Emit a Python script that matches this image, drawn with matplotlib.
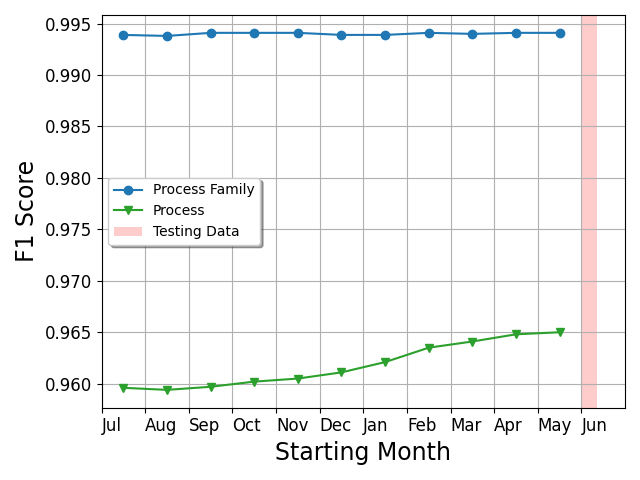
import matplotlib
matplotlib.use("Agg")
import matplotlib.pyplot as plt
import numpy as np

months = ["Jul", "Aug", "Sep", "Oct", "Nov", "Dec", "Jan", "Feb", "Mar", "Apr", "May", "Jun"]
process_family = [0.9939, 0.9938, 0.9941, 0.9941, 0.9941, 0.9939, 0.9939, 0.9941, 0.9940, 0.9941, 0.9941]
process = [0.9596, 0.9594, 0.9597, 0.9602, 0.9605, 0.9611, 0.9621, 0.9635, 0.9641, 0.9648, 0.9650]
testing_start, testing_end = 11, 11.35

fig, ax = plt.subplots(figsize=(6.4, 4.8), dpi=100)
x = np.arange(len(process_family)) + 0.5
ax.plot(x, process_family, marker="o", color="#1f77b4", label="Process Family")
ax.plot(x, process, marker="v", color="#2ca02c", label="Process")
ax.axvspan(testing_start, testing_end, color="red", alpha=0.2, lw=0, label="Testing Data")
ax.set_xlim(0, 12)
ax.set_xticks(np.arange(len(months)))
ax.set_xticklabels(months, ha="left")
ax.tick_params(labelsize=12)
ax.grid(True, color="#b0b0b0")
ax.set_xlabel("Starting Month", fontsize=17)
ax.set_ylabel("F1 Score", fontsize=17)
ax.legend(loc="center left", shadow=True, fontsize=10)
fig.tight_layout()
fig.savefig("out.png")
